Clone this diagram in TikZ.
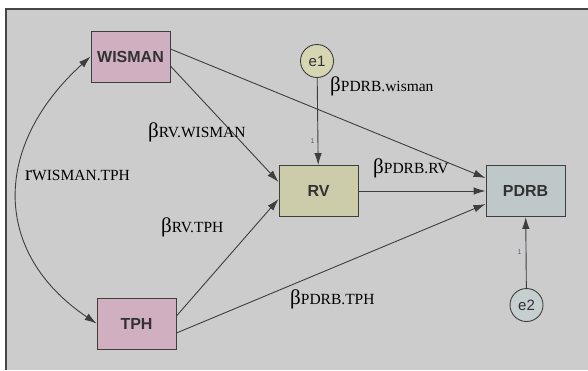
\documentclass[tikz,border=0pt]{standalone}
\usepackage{fontspec}
\setmainfont{Liberation Serif}
\setsansfont{Liberation Sans}
\usetikzlibrary{arrows.meta}

\definecolor{bggray}{RGB}{204,204,204}
\definecolor{framegray}{RGB}{70,70,70}
\definecolor{linegray}{RGB}{62,62,62}
\definecolor{txtgray}{RGB}{50,50,50}
\definecolor{mauve}{RGB}{207,175,192}
\definecolor{khaki}{RGB}{204,204,170}
\definecolor{khakilight}{RGB}{214,214,178}
\definecolor{bluegray}{RGB}{190,200,200}
\definecolor{bluegraylight}{RGB}{198,207,207}
\definecolor{onecol}{RGB}{110,90,130}

\begin{document}
\begin{tikzpicture}[
        x = 1pt, y = -1pt,
        obs/.style = {draw = linegray, line width = 0.9pt, minimum width = 79pt, minimum height = 51pt, inner sep = 0pt, text = txtgray, font = \sffamily\bfseries\fontsize{16}{16}\selectfont},
        err/.style = {circle, draw = linegray, line width = 0.9pt, minimum size = 33pt, inner sep = 0pt, text = txtgray, font = \sffamily\fontsize{15}{15}\selectfont},
        path/.style = {draw = linegray, line width = 0.9pt, -{Latex[length = 12pt, width = 7.5pt]}},
        coef/.style = {anchor = base west, inner sep = 0pt, text = black},
        one/.style = {inner sep = 0pt, text = onecol, font = \sffamily\fontsize{7}{7}\selectfont}
    ]
        \useasboundingbox (0,0) rectangle (588,370);
        \fill[bggray] (6,9) rectangle (588,370);
        \draw[framegray, line width = 1.5pt] (6,370) -- (6,9) -- (588,9);

        \node[obs, fill = mauve] (wisman) at (130.5,56.5) {WISMAN};
        \node[obs, fill = mauve] (tph) at (136.5,323.5) {TPH};
        \node[obs, fill = khaki] (rv) at (318.5,191) {RV};
        \node[obs, fill = bluegray] (pdrb) at (525.5,191) {PDRB};
        \node[err, fill = khakilight] (e1) at (317,61) {e1};
        \node[err, fill = bluegraylight] (e2) at (526.5,305) {e2};

        \draw[path] (e1) -- node[one, pos = 0.72, left = 3pt] (one1) {1} (rv);
        \draw[path] (e2) -- node[one, pos = 0.5, left = 4pt] (one2) {1} (pdrb);
        \draw[path] (wisman.east |- 0,66) -- (rv.west |- 0,182);
        \draw[path] (wisman.east |- 0,49) -- (pdrb.west |- 0,178);
        \draw[path] (rv) -- (pdrb);
        \draw[path] (tph.east |- 0,316) -- (rv.west |- 0,199);
        \draw[path] (tph.east |- 0,333) -- (pdrb.west |- 0,204);
        \draw[path, {Latex[length = 12pt, width = 7.5pt]}-{Latex[length = 12pt, width = 7.5pt]}] (wisman.west) .. controls (-8,146) and (-8,253) .. (tph.west);

        \node[coef] (bRVW) at (148,137) {\fontsize{21}{21}\selectfont β\fontsize{15.5}{15.5}\selectfont RV.WISMAN};
        \node[coef] (rWT) at (25,180) {\fontsize{21}{21}\selectfont r\fontsize{15.5}{15.5}\selectfont WISMAN.TPH};
        \node[coef] (bRVT) at (161,232) {\fontsize{21}{21}\selectfont β\fontsize{15.5}{15.5}\selectfont RV.TPH};
        \node[coef] (bPW) at (330,91) {\fontsize{21}{21}\selectfont β\fontsize{15.5}{15.5}\selectfont PDRB.wisman};
        \node[coef] (bPR) at (373,173) {\fontsize{21}{21}\selectfont β\fontsize{15.5}{15.5}\selectfont PDRB.RV};
        \node[coef] (bPT) at (290,304) {\fontsize{21}{21}\selectfont β\fontsize{15.5}{15.5}\selectfont PDRB.TPH};
\end{tikzpicture}
\end{document}
